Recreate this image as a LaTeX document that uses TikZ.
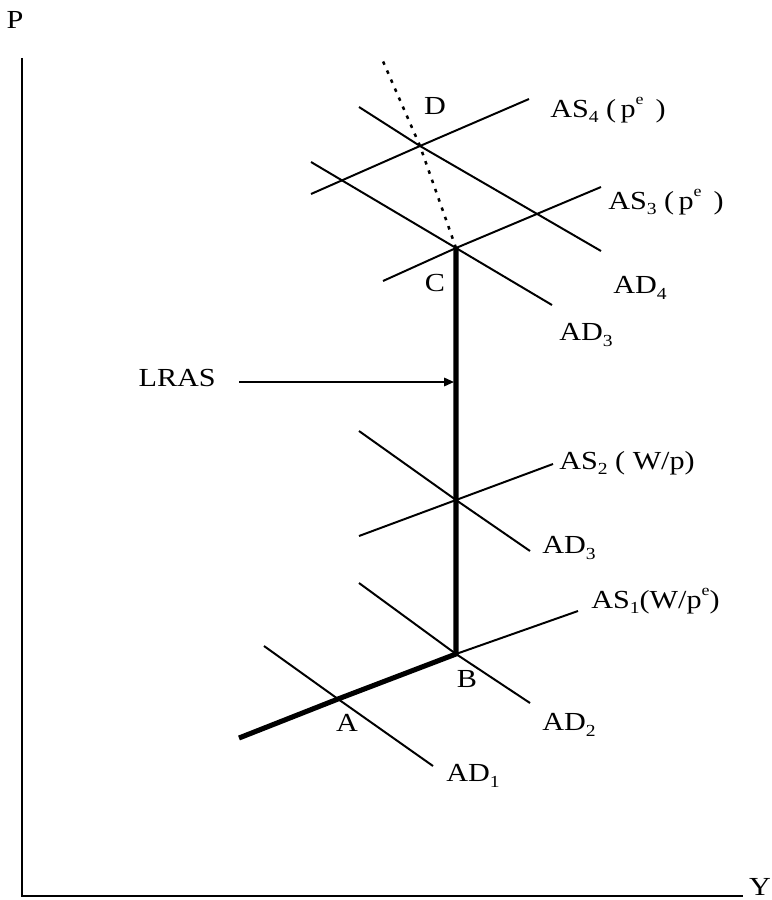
\documentclass[tikz,border=0pt]{standalone}
\usepackage{fontspec}
\setmainfont[FakeStretch=1.16]{Liberation Serif}
\usetikzlibrary{arrows.meta}
\newcommand{\lowix}[1]{\raisebox{-0.45ex}{\fontsize{12}{13}\selectfont #1}}
\newcommand{\highix}[1]{\raisebox{1.1ex}{\fontsize{11}{12}\selectfont #1}}

\begin{document}
\begin{tikzpicture}[x=0.025cm, y=-0.025cm,
  curve/.style={line width=1.4pt},
  lras/.style={line width=3.6pt},
  lbl/.style={font=\fontsize{18.5}{22}\selectfont, inner sep=0pt}]
\useasboundingbox (0,0) rectangle (771,900);
% axes
\coordinate (top) at (22,58);
\coordinate (orig) at (22,896);
\coordinate (right) at (743,896);
\draw[line width=1.5pt] (top) -- (orig) -- (right);
\node[lbl] (P) at (15,20) {P};
\node[lbl] (Y) at (760,887) {Y};
% equilibrium points
\coordinate (A) at (338,699);
\coordinate (B) at (456,654);
\coordinate (M) at (456,500);
\coordinate (C) at (456,248);
\coordinate (D) at (420,146);
% AD curves
\draw[curve] (264,646) -- (A) -- (433,766);
\draw[curve] (359,583) -- (B) -- (530,703);
\draw[curve] (359,431) -- (M) -- (530,551);
\draw[curve] (311,162) -- (C) -- (552,305);
\draw[curve] (359,107) -- (D) -- (601,251);
% AS curves
\draw[curve] (B) -- (578,611);
\draw[curve] (359,536) -- (M) -- (553,464);
\draw[curve] (383,281) -- (C) -- (601,187);
\draw[curve] (311,194) -- (D) -- (529,99);
% long run path
\draw[lras] (239,738) -- (A) -- (B) -- (C);
\draw[line width=1.8pt, dash pattern=on 2.5pt off 4.5pt] (C) -- (D) -- (382,59);
% LRAS label and arrow
\node[lbl, anchor=east] (lrasl) at (216,378) {LRAS};
\coordinate (lrasp) at (454,382);
\draw[line width=1.2pt, -{Triangle[length=7pt, width=6pt]}] (239,382) -- (lrasp);
% point labels
\node[lbl] (Al) at (347,723) {A};
\node[lbl] (Bl) at (467,679) {B};
\node[lbl] (Cl) at (435,283) {C};
\node[lbl] (Dl) at (435,106) {D};
% curve labels
\node[lbl, anchor=west] (as4) at (550,110) {AS\lowix{4}\ (\,p\highix{e}\ \,)};
\node[lbl, anchor=west] (as3) at (608,202) {AS\lowix{3}\ (\,p\highix{e}\ \,)};
\node[lbl, anchor=west] (ad4) at (613,288) {AD\lowix{4}};
\node[lbl, anchor=west] (ad3a) at (559,335) {AD\lowix{3}};
\node[lbl, anchor=west] (as2) at (559,463) {AS\lowix{2}\ (\ W/p)};
\node[lbl, anchor=west] (ad3b) at (542,548) {AD\lowix{3}};
\node[lbl, anchor=west] (as1) at (591,601) {AS\lowix{1}(W/p\highix{e})};
\node[lbl, anchor=west] (ad2) at (542,725) {AD\lowix{2}};
\node[lbl, anchor=west] (ad1) at (446,776) {AD\lowix{1}};
\end{tikzpicture}
\end{document}
